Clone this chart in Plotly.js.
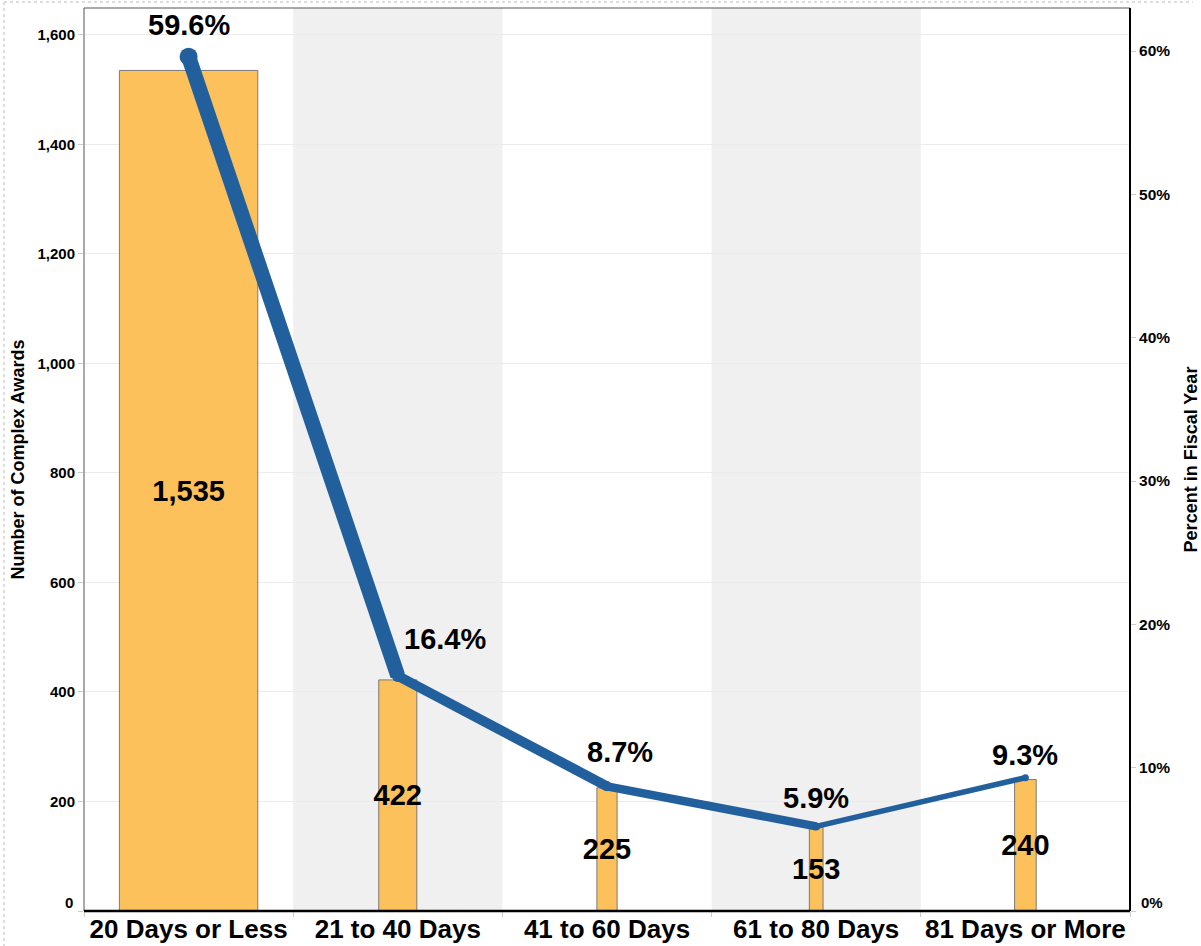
<!DOCTYPE html>
<html>
<head>
<meta charset="utf-8">
<script src="https://cdn.plot.ly/plotly-3.0.1.min.js"></script>
<style>
  html, body { margin: 0; padding: 0; background: #ffffff; }
  #chart { width: 1201px; height: 946px; }
</style>
</head>
<body>
<div id="chart"></div>
<script>
// ---- data ----
const categories = ["20 Days or Less", "21 to 40 Days", "41 to 60 Days", "61 to 80 Days", "81 Days or More"];
const awardCounts = [1535, 422, 225, 153, 240];
const percentInYear = [59.6, 16.4, 8.7, 5.9, 9.3];
const leftTicks = [0, 200, 400, 600, 800, 1000, 1200, 1400, 1600];
const rightTicks = [0, 10, 20, 30, 40, 50, 60];

// ---- styles ----
const FONT = "Arial, 'Liberation Sans', sans-serif";
const barColor = "#FDC15C";
const lineColor = "#22609D";
const segmentWidths = [15, 10, 8.5, 5.5];
const markerSizes = [18, 12, 10, 8, 7];
const labelShiftX = [0, 47, 13, 0, 0];
const labelShiftY = [32, 37, 34, 28, 23];
const barWidthPerPct = 0.0111;

const fmtCount = v => v.toLocaleString("en-US");
const fmtPct = v => v + "%";

const traces = [];

traces.push({
  type: "bar",
  x: categories,
  y: awardCounts,
  width: percentInYear.map(p => p * barWidthPerPct),
  marker: { color: barColor, line: { color: "#7a7a7a", width: 1 } },
  texttemplate: "%{y:,}",
  textposition: "inside",
  insidetextanchor: "middle",
  constraintext: "none",
  textangle: 0,
  textfont: { family: FONT, size: 29, color: "#000000", weight: "bold" },
  cliponaxis: false,
  hoverinfo: "x+y",
  showlegend: false,
  yaxis: "y"
});

for (let i = 0; i < categories.length - 1; i++) {
  traces.push({
    type: "scatter",
    mode: "lines",
    x: [categories[i], categories[i + 1]],
    y: [percentInYear[i], percentInYear[i + 1]],
    line: { color: lineColor, width: segmentWidths[i] },
    yaxis: "y2",
    showlegend: false,
    hoverinfo: "skip"
  });
}

traces.push({
  type: "scatter",
  mode: "markers",
  x: categories,
  y: percentInYear,
  marker: { color: lineColor, size: markerSizes, opacity: 1, line: { width: 0 } },
  yaxis: "y2",
  showlegend: false,
  cliponaxis: false,
  hovertemplate: "%{x}: %{y}%<extra></extra>"
});

const annotations = categories.map((c, i) => ({
  x: c,
  y: percentInYear[i],
  xref: "x",
  yref: "y2",
  text: percentInYear[i].toFixed(1) + "%",
  showarrow: false,
  xanchor: "center",
  yanchor: "middle",
  xshift: labelShiftX[i],
  yshift: labelShiftY[i],
  font: { family: FONT, size: 29, color: "#000000", weight: "bold" }
}));

// zero tick labels are drawn slightly above the axis, as in the original
annotations.push({
  x: 0, y: leftTicks[0], xref: "paper", yref: "y",
  text: fmtCount(leftTicks[0]), showarrow: false,
  xanchor: "right", yanchor: "middle", xshift: -9, yshift: 9,
  font: { family: FONT, size: 15, color: "#000000", weight: "bold" }
});
annotations.push({
  x: 1, y: rightTicks[0], xref: "paper", yref: "y2",
  text: fmtPct(rightTicks[0]), showarrow: false,
  xanchor: "left", yanchor: "middle", xshift: 9, yshift: 9,
  font: { family: FONT, size: 15, color: "#000000", weight: "bold" }
});

const shapes = [
  { type: "rect", xref: "x", yref: "paper", x0: 0.5, x1: 1.5, y0: 0, y1: 1,
    fillcolor: "#f0f0f0", line: { width: 0 }, layer: "between" },
  { type: "rect", xref: "x", yref: "paper", x0: 2.5, x1: 3.5, y0: 0, y1: 1,
    fillcolor: "#f0f0f0", line: { width: 0 }, layer: "between" },
  { type: "rect", xref: "paper", yref: "paper", x0: 0, x1: 1, y0: 0, y1: 1,
    line: { color: "#555555", width: 1 }, fillcolor: "rgba(0,0,0,0)", layer: "above" },
  { type: "line", xref: "paper", yref: "paper", x0: 0, x1: 1, y0: 0, y1: 0,
    line: { color: "#000000", width: 2.5 }, layer: "above" },
  { type: "line", xref: "paper", yref: "paper", x0: 1, x1: 1, y0: 0, y1: 1,
    line: { color: "#000000", width: 2 }, layer: "above" },
  { type: "line", xref: "paper", yref: "paper", x0: -0.0765, x1: -0.0765, y0: -0.04, y1: 1.0066,
    line: { color: "#dddddd", width: 2, dash: "dot" }, layer: "above" },
  { type: "line", xref: "paper", yref: "paper", x0: -0.0765, x1: 1.06, y0: 1.0066, y1: 1.0066,
    line: { color: "#dddddd", width: 2, dash: "dot" }, layer: "above" }
];

const layout = {
  width: 1201,
  height: 946,
  margin: { l: 84, r: 71, t: 8, b: 35, pad: 0 },
  paper_bgcolor: "#ffffff",
  plot_bgcolor: "#ffffff",
  font: { family: FONT, color: "#000000" },
  showlegend: false,
  bargap: 0,
  xaxis: {
    type: "category",
    categoryorder: "array",
    categoryarray: categories,
    range: [-0.5, 4.5],
    tickson: "boundaries",
    ticks: "outside",
    ticklen: 5,
    tickcolor: "#cccccc",
    tickangle: 0,
    showgrid: false,
    showline: false,
    zeroline: false,
    automargin: false,
    tickfont: { family: FONT, size: 26, color: "#000000", weight: "bold" },
    fixedrange: true
  },
  yaxis: {
    range: [0, 1649],
    tickmode: "array",
    tickvals: leftTicks,
    ticktext: leftTicks.map((v, i) => i === 0 ? "" : fmtCount(v)),
    ticks: "outside",
    ticklen: 5,
    tickcolor: "#cccccc",
    showgrid: true,
    gridcolor: "#ebebeb",
    gridwidth: 1,
    zeroline: false,
    showline: false,
    tickfont: { family: FONT, size: 15, color: "#000000", weight: "bold" },
    title: { text: "Number of Complex Awards", font: { family: FONT, size: 18, color: "#000000", weight: "bold" }, standoff: 8 },
    fixedrange: true
  },
  yaxis2: {
    overlaying: "y",
    side: "right",
    range: [0, 63.0],
    tickmode: "array",
    tickvals: rightTicks,
    ticktext: rightTicks.map((v, i) => i === 0 ? "" : fmtPct(v)),
    ticks: "outside",
    ticklen: 5,
    tickcolor: "#cccccc",
    showgrid: false,
    zeroline: false,
    showline: false,
    tickfont: { family: FONT, size: 15.5, color: "#000000", weight: "bold" },
    title: { text: "Percent in Fiscal Year", font: { family: FONT, size: 18, color: "#000000", weight: "bold" }, standoff: 17 },
    fixedrange: true
  },
  annotations: annotations,
  shapes: shapes
};

Plotly.newPlot("chart", traces, layout, { displayModeBar: false, staticPlot: true });
</script>
</body>
</html>
